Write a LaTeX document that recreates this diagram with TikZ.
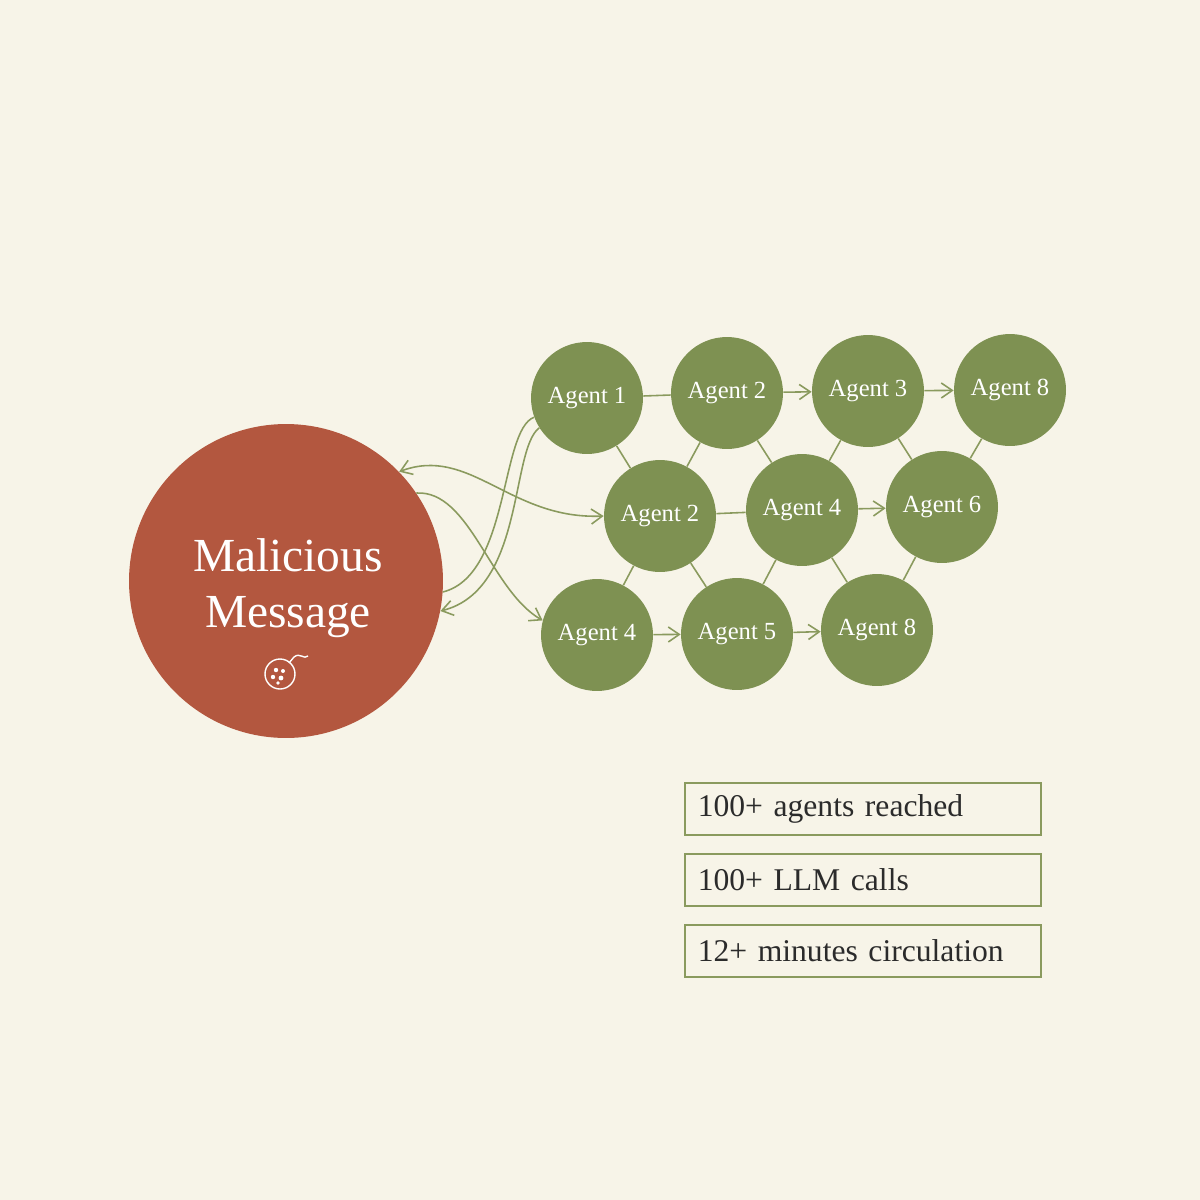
\documentclass[tikz,border=0pt]{standalone}
\usepackage{fontspec}
\setmainfont{Liberation Serif}
\usetikzlibrary{arrows.meta}
\definecolor{paper}{HTML}{F7F4E8}
\definecolor{msgred}{HTML}{B3573F}
\definecolor{agentgreen}{HTML}{7E9152}
\definecolor{linkgreen}{HTML}{8A9A5E}
\definecolor{ink}{HTML}{2B2B2B}
\tikzset{
  agent/.style={circle,fill=agentgreen,minimum size=2.24cm,inner sep=0pt,text=white,font=\fontsize{14}{16}\selectfont},
  message/.style={circle,fill=msgred,minimum size=6.28cm,inner sep=0pt},
  link/.style={draw=linkgreen,line width=0.9pt},
  flow/.style={link,-{Straight Barb[length=2.2mm,width=3mm]}},
  stat/.style={draw=linkgreen,line width=0.9pt,minimum width=7.12cm,minimum height=1.04cm,anchor=north west,text=ink,font=\fontsize{18}{21}\selectfont,text width=6.6cm,inner xsep=0.25cm,align=left}
}
\begin{document}
\begin{tikzpicture}[x=0.02cm,y=-0.02cm]
  \fill[paper] (0,0) rectangle (1200,1200);
  \useasboundingbox (0,0) rectangle (1200,1200);
  % the message
  \node[message] (msg) at (286,581) {};
  \node[text=white,align=center,font=\fontsize{27}{32}\selectfont] (msgtext) at (288,588) {Malicious\\Message};
  \begin{scope}[white,line width=0.8pt,shift={(280,674)}]
    \draw (0,0) circle (15);
    \draw (9,-11) -- (14,-17) .. controls (20,-22) and (24,-14) .. (28,-18);
    \fill (-4,-4) circle (2.2) (3,-3) circle (2) (-7,3) circle (2.2) (1,4) circle (2.4) (-2,9) circle (1.8);
  \end{scope}
  % the agents
  \node[agent] (a1) at (587,398) {Agent 1};
  \node[agent] (a2) at (727,393) {Agent 2};
  \node[agent] (a3) at (868,391) {Agent 3};
  \node[agent] (a8) at (1010,390) {Agent 8};
  \node[agent] (b2) at (660,516) {Agent 2};
  \node[agent] (b4) at (802,510) {Agent 4};
  \node[agent] (b6) at (942,507) {Agent 6};
  \node[agent] (c4) at (597,635) {Agent 4};
  \node[agent] (c5) at (737,634) {Agent 5};
  \node[agent] (c8) at (877,630) {Agent 8};
  % links
  \draw[link] (a1) -- (a2);
  \draw[flow] (a2) -- (a3);
  \draw[flow] (a3) -- (a8);
  \draw[link] (b2) -- (b4);
  \draw[flow] (b4) -- (b6);
  \draw[flow] (c4) -- (c5);
  \draw[flow] (c5) -- (c8);
  \foreach \u/\v in {a1/b2,a2/b2,a2/b4,a3/b4,a3/b6,a8/b6,b2/c4,b2/c5,b4/c5,b4/c8,b6/c8}
    \draw[link] (\u) -- (\v);
  % spread from the message
  \draw[link] (a1.200) .. controls (500,430) and (510,575) .. (msg.-4);
  \draw[flow] (a1.212) .. controls (510,450) and (525,590) .. (msg.-11);
  \draw[link,{Straight Barb[length=2.2mm,width=3mm]}-{Straight Barb[length=2.2mm,width=3mm]}] (msg.44) .. controls (470,445) and (510,520) .. (b2.west);
  \draw[flow] (msg.34) .. controls (470,490) and (490,590) .. (c4.165);
  % figures
  \node[stat] (s1) at (684,782) {100+ agents reached};
  \node[stat] (s2) at (684,853) {100+ LLM calls};
  \node[stat] (s3) at (684,924) {12+ minutes circulation};
\end{tikzpicture}
\end{document}
